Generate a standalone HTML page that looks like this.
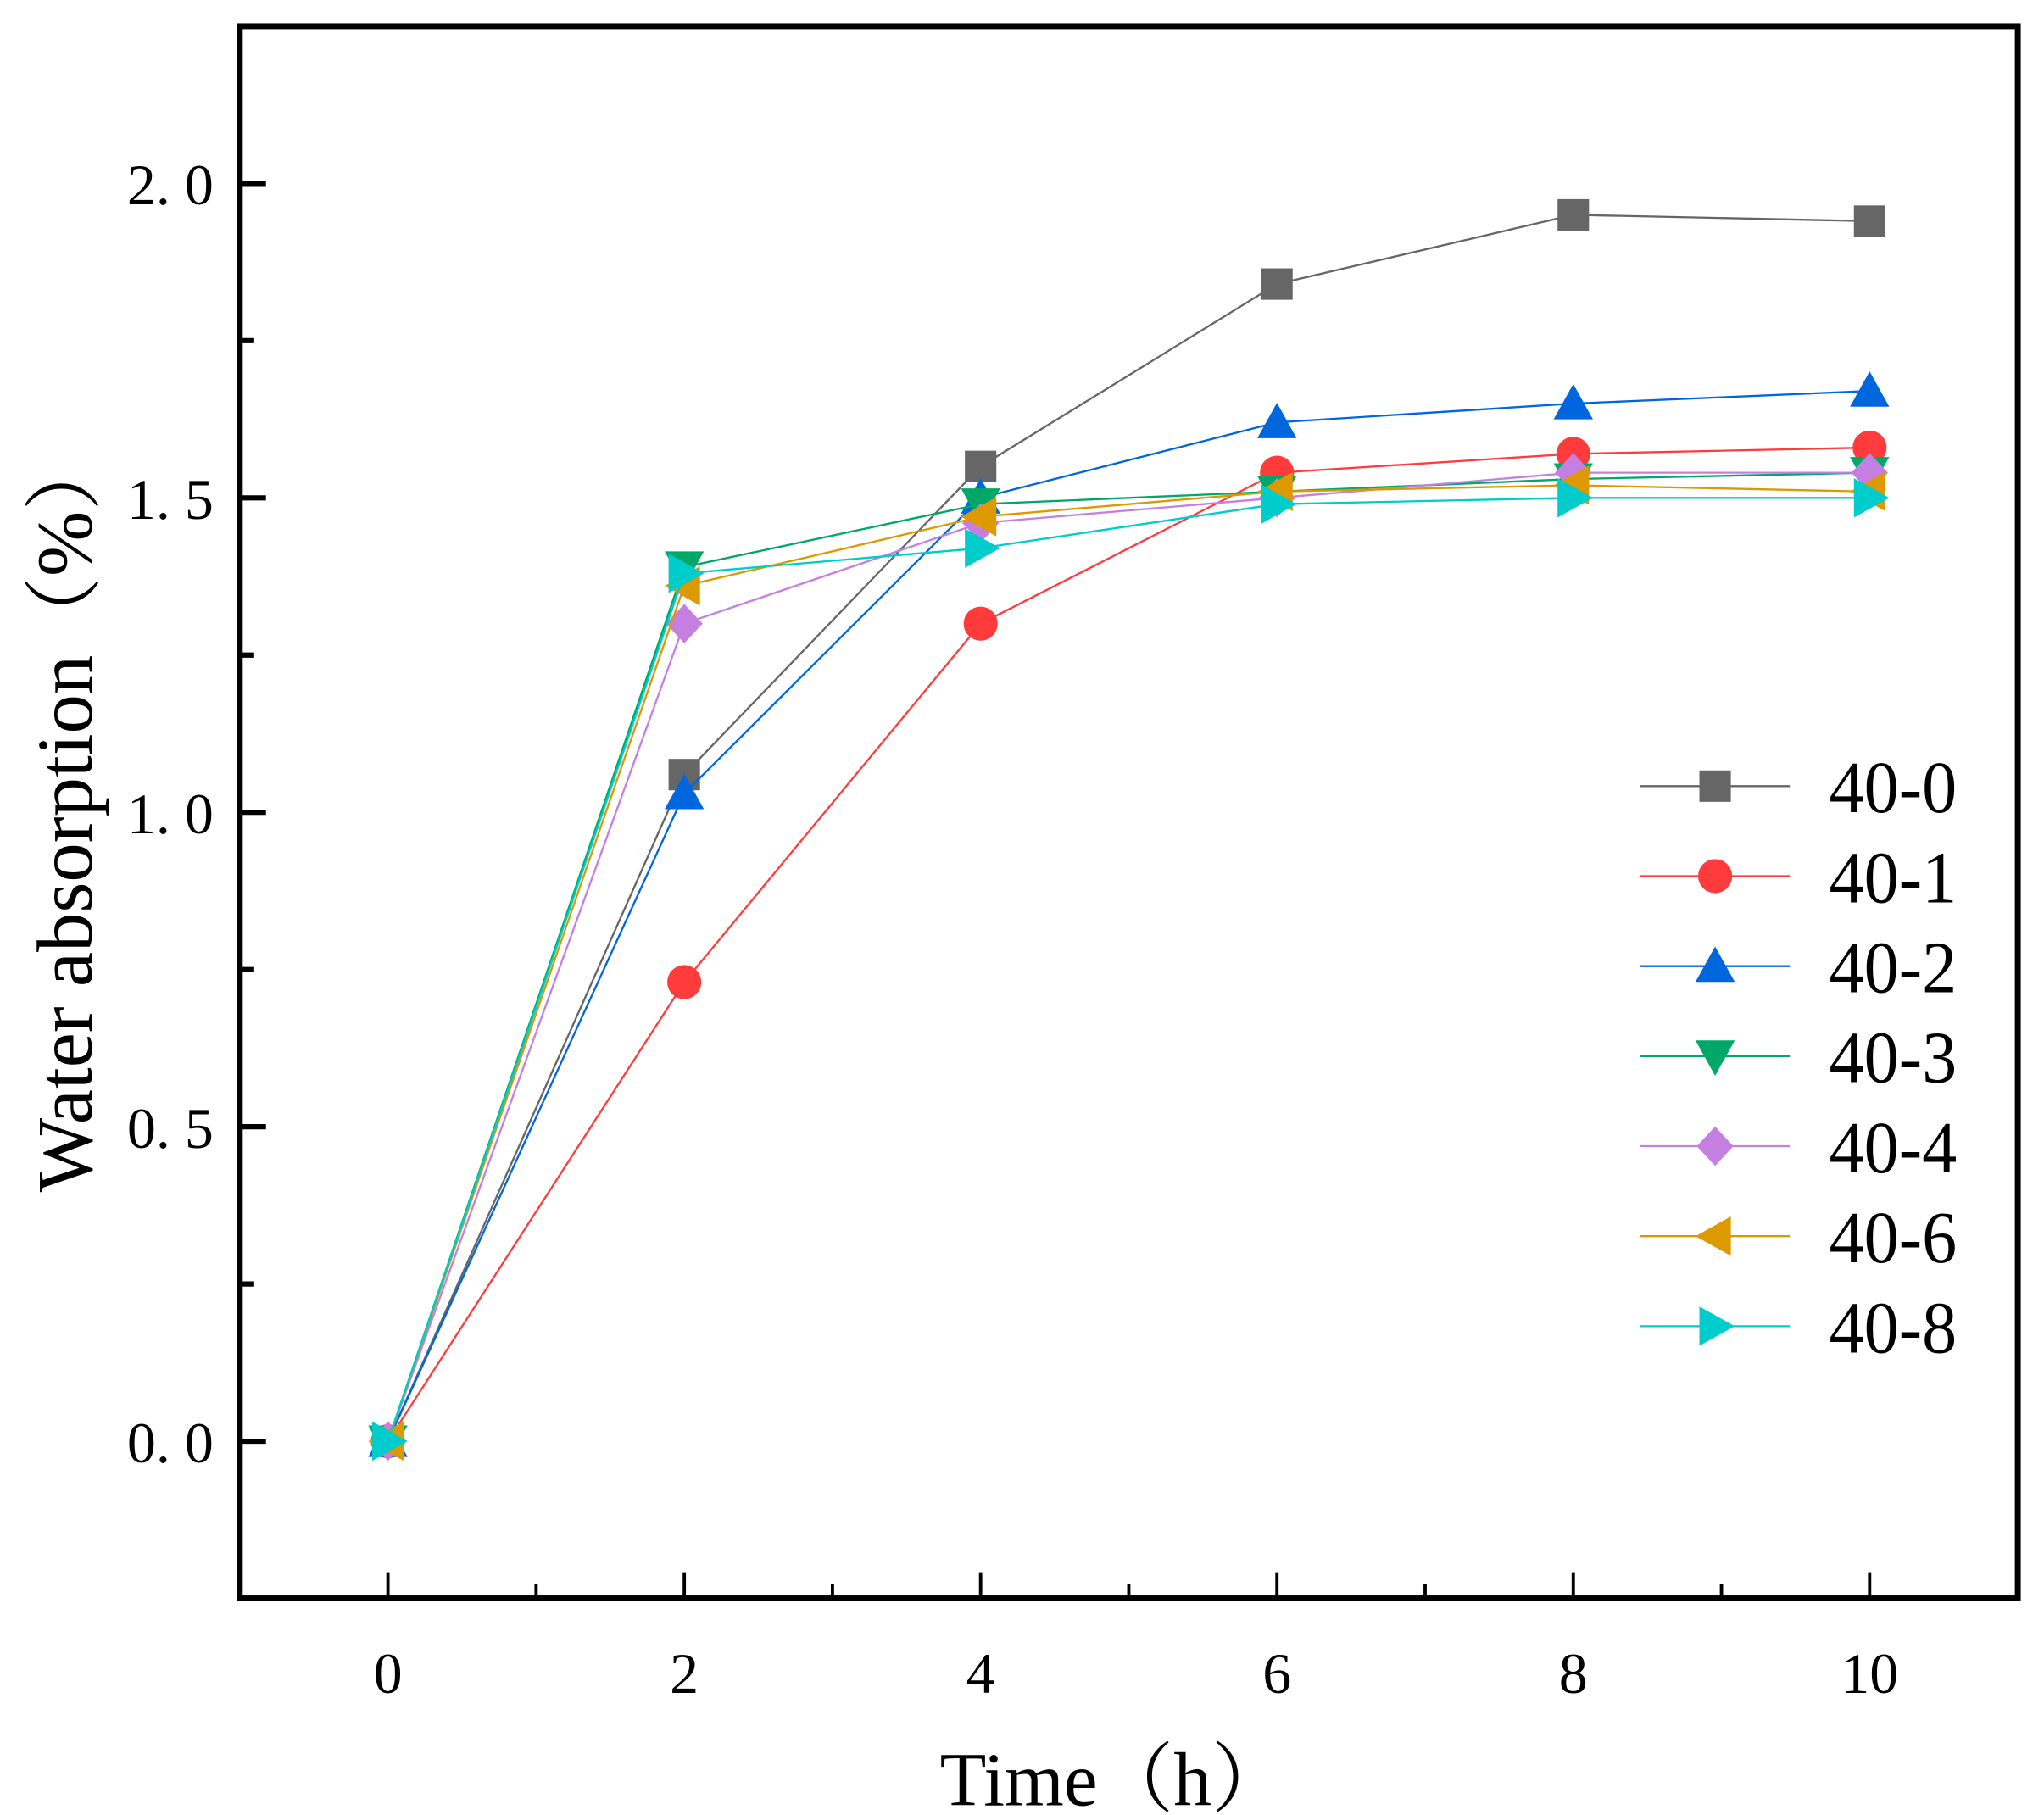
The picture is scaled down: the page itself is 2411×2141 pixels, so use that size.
<!DOCTYPE html>
<html><head><meta charset="utf-8"><style>
html,body{margin:0;padding:0;background:#fff;}
svg{display:block;font-family:"Liberation Serif","Noto Serif CJK SC",serif;}
</style></head><body>
<svg id="chart" width="2411" height="2141" viewBox="0 0 1560 1385.3" preserveAspectRatio="none" xmlns="http://www.w3.org/2000/svg">
<g id="plot"></g>
</svg>
<script>
const categories = [0, 2, 4, 6, 8, 10];
const seriesNames = ["40-0","40-1","40-2","40-3","40-4","40-6","40-8"];
const s40_0 = [0, 1.06, 1.55, 1.84, 1.95, 1.94];
const s40_1 = [0, 0.73, 1.30, 1.54, 1.57, 1.58];
const s40_2 = [0, 1.03, 1.50, 1.62, 1.65, 1.67];
const s40_3 = [0, 1.39, 1.49, 1.51, 1.53, 1.54];
const s40_4 = [0, 1.30, 1.46, 1.50, 1.54, 1.54];
const s40_6 = [0, 1.36, 1.47, 1.51, 1.52, 1.51];
const s40_8 = [0, 1.38, 1.42, 1.49, 1.50, 1.50];
const xTicks = [0, 2, 4, 6, 8, 10];
const yTicks = [0, 0.5, 1.0, 1.5, 2.0];
const yTickLabels = ["0. 0", "0. 5", "1. 0", "1. 5", "2. 0"];

const series = [s40_0, s40_1, s40_2, s40_3, s40_4, s40_6, s40_8];
const colors = ["#666666","#FF3B3B","#0066DD","#00A867","#C57FE0","#DD9900","#00CCCC"];
const shapes = ["square","circle","up","down","diamond","left","right"];

const L=183, R=1540, T=20, B=1220;
const xMin=-1, xMax=11, yMin=-0.25, yMax=2.25;
const X = v => L + (v - xMin) / (xMax - xMin) * (R - L);
const Y = v => B - (v - yMin) / (yMax - yMin) * (B - T);
const NS="http://www.w3.org/2000/svg";
const g=document.getElementById('plot');
function mk(tag, attrs, parent){const e=document.createElementNS(NS,tag);for(const k in attrs)e.setAttribute(k,attrs[k]);(parent||g).appendChild(e);return e;}

function marker(shape, cx, cy, color, parent){
  const s=13; let e;
  if(shape==="square") e=mk('rect',{x:cx-s+1,y:cy-s+1,width:2*s-2,height:2*s-2,fill:color},parent);
  else if(shape==="circle") e=mk('circle',{cx:cx,cy:cy,r:s,fill:color},parent);
  else if(shape==="up") e=mk('polygon',{points:`${cx},${cy-s-2} ${cx-s-2},${cy+s-1} ${cx+s+2},${cy+s-1}`,fill:color},parent);
  else if(shape==="down") e=mk('polygon',{points:`${cx},${cy+s+2} ${cx-s-2},${cy-s+1} ${cx+s+2},${cy-s+1}`,fill:color},parent);
  else if(shape==="diamond") e=mk('polygon',{points:`${cx},${cy-s-2} ${cx+s+1},${cy} ${cx},${cy+s+2} ${cx-s-1},${cy}`,fill:color},parent);
  else if(shape==="left") e=mk('polygon',{points:`${cx-s-2},${cy} ${cx+s-1},${cy-s-2} ${cx+s-1},${cy+s+2}`,fill:color},parent);
  else e=mk('polygon',{points:`${cx+s+2},${cy} ${cx-s+1},${cy-s-2} ${cx-s+1},${cy+s+2}`,fill:color},parent);
  return e;
}

xTicks.forEach(v=>{
  const t=mk('line',{x1:X(v),x2:X(v),y1:B,y2:B-20,stroke:'#000','stroke-width':2.5});
  
  
  const lb=mk('text',{x:X(v),y:1292,'font-size':44,'text-anchor':'middle',fill:'#000'});
  lb.textContent=v;
  
  
});
for(let v=1; v<=9; v+=2){
  const t=mk('line',{x1:X(v),x2:X(v),y1:B,y2:B-11,stroke:'#000','stroke-width':2.5});
  
  
}
yTicks.forEach((v,i)=>{
  const t=mk('line',{x1:L,x2:L+20,y1:Y(v),y2:Y(v),stroke:'#000','stroke-width':4});
  
  
  const lb=mk('text',{x:163,y:Y(v)+16,'font-size':44,'text-anchor':'end',fill:'#000'});
  lb.textContent=yTickLabels[i];
  
  
});
for(let v=0.25; v<2.25; v+=0.5){
  const t=mk('line',{x1:L,x2:L+11,y1:Y(v),y2:Y(v),stroke:'#000','stroke-width':4});
  
  
}

series.forEach((vals,si)=>{
  const grp=mk('g',{});
  
  
  const pts=vals.map((v,i)=>X(categories[i])+','+Y(v)).join(' ');
  const pl=mk('polyline',{points:pts,fill:'none',stroke:colors[si],'stroke-width':1.5},grp);
  
  
  vals.forEach((v,i)=>{
    const m=marker(shapes[si],X(categories[i]),Y(v),colors[si],grp);
    
    
  });
});

const fr=mk('rect',{x:L,y:T,width:R-L,height:B-T,fill:'none',stroke:'#000','stroke-width':4.5});



const lg=mk('g',{});


seriesNames.forEach((n,i)=>{
  const y=600+i*68.7;
  const e=mk('g',{},lg);
  
  
  mk('line',{x1:1252,x2:1366,y1:y,y2:y,stroke:colors[i],'stroke-width':1.5},e);
  marker(shapes[i],1309,y,colors[i],e);
  const t=mk('text',{x:0,y:0,'font-size':56,fill:'#000',transform:`translate(1396,${y+20}) scale(0.95,1)`},e);
  t.textContent=n;
});

const xt=mk('text',{x:850,y:1378,'font-size':58,'text-anchor':'middle',fill:'#000'});
xt.textContent='Time（h）';


const yt=mk('text',{x:0,y:0,'font-size':60,'text-anchor':'middle',fill:'#000',transform:'translate(70,620) rotate(-90)'});
yt.textContent='Water absorption（%）';


</script>
</body></html>
